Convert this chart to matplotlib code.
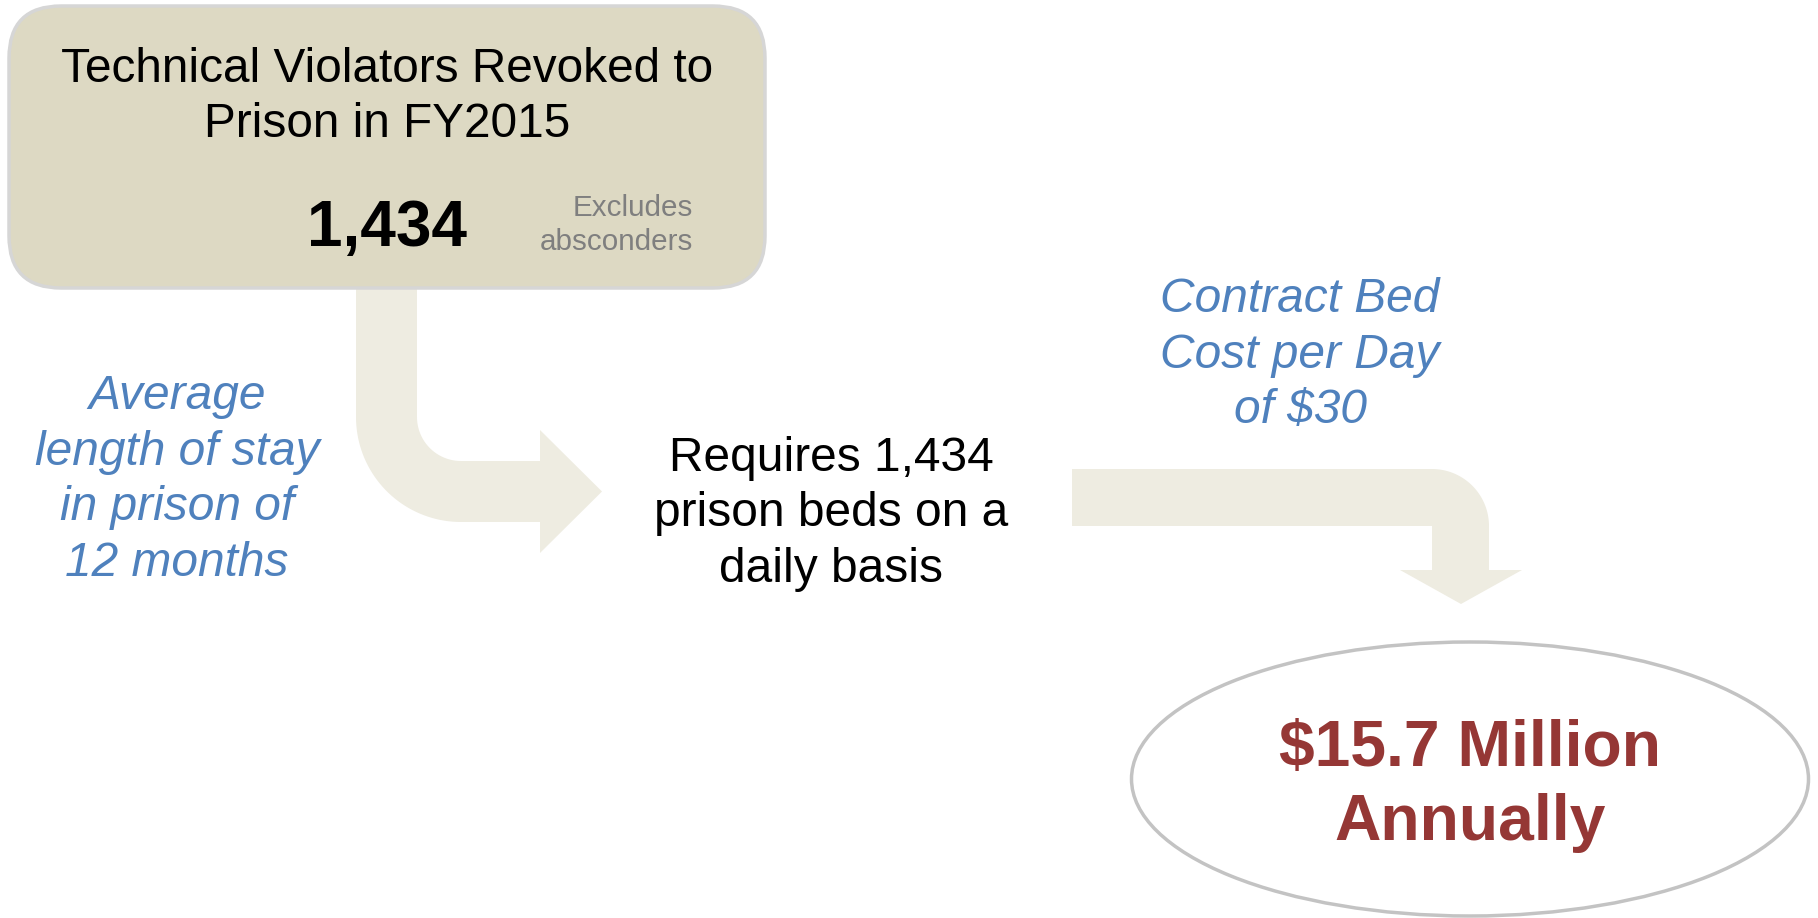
import matplotlib
matplotlib.use("Agg")
import matplotlib.pyplot as plt
import numpy as np
from matplotlib.patches import FancyBboxPatch, Ellipse, Polygon

plt.rcParams['font.family'] = ['Liberation Sans', 'DejaVu Sans']

# texts of the flow diagram
title_text = "Technical Violators Revoked to\nPrison in FY2015"
count_text = "1,434"
note_text = "Excludes\nabsconders"
stay_text = "Average\nlength of stay\nin prison of\n12 months"
beds_text = "Requires 1,434\nprison beds on a\ndaily basis"
cost_text = "Contract Bed\nCost per Day\nof $30"
total_text = "$15.7 Million\nAnnually"

box_fill = '#DDD9C3'
arrow_fill = '#EEECE1'
blue = '#4F81BD'
red = '#953735'

W, H = 1818, 918
fig = plt.figure(figsize=(W / 100, H / 100), dpi=100)
ax = fig.add_axes([0, 0, 1, 1])
ax.set_xlim(0, W)
ax.set_ylim(H, 0)
ax.axis('off')


def arc(cx, cy, r, a0, a1, n=40):
	t = np.radians(np.linspace(a0, a1, n))
	return list(zip(cx + r * np.cos(t), cy + r * np.sin(t)))


# top box
ax.add_patch(FancyBboxPatch((9, 6), 756, 282, boxstyle="round,pad=0,rounding_size=52",
	facecolor=box_fill, edgecolor='#D6D6D6', linewidth=2.5, zorder=2))

# bent arrow down-right
pts = [(356, 288), (417, 288), (417, 417)]
pts += arc(461, 417, 44, 180, 90)
pts += [(540, 461), (540, 430), (602, 491.5), (540, 553), (540, 522)]
pts += arc(461, 417, 105, 90, 180)
ax.add_patch(Polygon(pts, closed=True, facecolor=arrow_fill, edgecolor='none', zorder=1))

# bent arrow right-down
pts = [(1072, 469)]
pts += arc(1432, 526, 57, -90, 0)
pts += [(1489, 570), (1522, 570), (1461, 604), (1400, 570), (1432, 570), (1432, 526), (1072, 526)]
ax.add_patch(Polygon(pts, closed=True, facecolor=arrow_fill, edgecolor='none', zorder=1))

# result ellipse
ax.add_patch(Ellipse((1470, 779), 677, 274, facecolor='white', edgecolor='#C3C3C3', linewidth=2.5, zorder=2))

ls = 1.3
ax.text(387, 97, title_text, ha='center', va='center', fontsize=34.4, linespacing=ls, zorder=3)
ax.text(387, 229, count_text, ha='center', va='center', fontsize=46, fontweight='bold', zorder=3)
ax.text(693, 225, note_text, ha='right', va='center', fontsize=21.3, color='#7F7F7F', linespacing=ls, zorder=3)
ax.text(177, 480, stay_text, ha='center', va='center', fontsize=34.5, style='italic', color=blue, linespacing=ls)
ax.text(831, 514, beds_text, ha='center', va='center', fontsize=34.5, linespacing=ls)
ax.text(1300, 355, cost_text, ha='center', va='center', fontsize=34.5, style='italic', color=blue, linespacing=ls)
ax.text(1470, 786, total_text, ha='center', va='center', fontsize=46.3, fontweight='bold', color=red, linespacing=ls, zorder=3)

fig.savefig('out.png', dpi=100)
